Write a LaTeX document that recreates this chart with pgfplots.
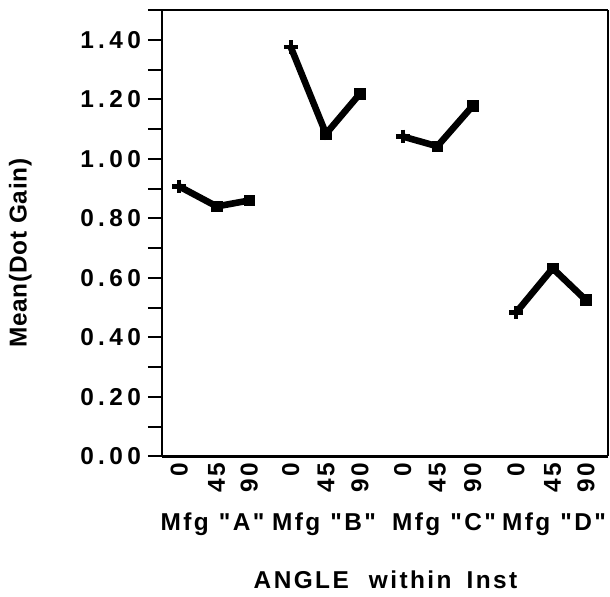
\documentclass[border=0pt]{standalone}
\usepackage{fontspec}
\setmainfont{Liberation Sans}[LetterSpace=10, Ligatures=TeXOff]
\newfontfamily\widefont{Liberation Sans}[LetterSpace=18]
\newfontfamily\tightfont{Liberation Sans}[LetterSpace=3]
\usepackage{pgfplots}
\pgfplotsset{compat=1.18}

% Mean dot gain per screen angle, one short line per manufacturer
\pgfplotstableread{
x      y
1.73   0.907
5.47   0.840
8.73   0.860
}\mfgA
\pgfplotstableread{
x      y
12.87  1.376
16.40  1.084
19.80  1.219
}\mfgB
\pgfplotstableread{
x      y
24.07  1.075
27.53  1.042
31.07  1.178
}\mfgC
\pgfplotstableread{
x      y
35.40  0.483
39.07  0.632
42.40  0.525
}\mfgD

\begin{document}
\begin{tikzpicture}[font=\fontsize{12.2bp}{14bp}\selectfont\bfseries]
\begin{axis}[
  name=ax,
  scale only axis,
  width=223bp, height=223.2bp,
  xmin=0, xmax=44.6,
  ymin=0, ymax=1.5,
  clip=false,
  axis lines*=left,
  axis line style={line width=1.3bp},
  tick align=outside,
  ytick={0,0.1,0.2,0.3,0.4,0.5,0.6,0.7,0.8,0.9,1.0,1.1,1.2,1.3,1.4,1.5},
  yticklabels={0.00,,0.20,,0.40,,0.60,,0.80,,1.00,,1.20,,1.40,},
  major tick length=7bp,
  ytick style={line width=1bp, black},
  yticklabel style={font=\fontsize{12.2bp}{14bp}\selectfont\widefont\bfseries, anchor=east},
  xtick={1.73,5.47,8.73,12.87,16.40,19.80,24.07,27.53,31.07,35.40,39.07,42.40},
  xticklabels={0,45,90,0,45,90,0,45,90,0,45,90},
  xtick style={draw=none},
  xticklabel style={yshift=4bp, rotate=90, anchor=east, inner sep=0pt},
]
\addplot[black, line width=3.3bp] table[x=x, y=y] {\mfgA};
\addplot[black, line width=3.3bp] table[x=x, y=y] {\mfgB};
\addplot[black, line width=3.3bp] table[x=x, y=y] {\mfgC};
\addplot[black, line width=3.3bp] table[x=x, y=y] {\mfgD};
% angle 0 drawn with a cross, angles 45 and 90 with squares
\addplot[only marks, mark=+, mark size=3.4bp, line width=2.2bp, black]
  coordinates {(1.73,0.907) (12.87,1.376) (24.07,1.075) (35.40,0.483)};
\addplot[only marks, mark=square*, mark size=2.7bp, black]
  coordinates {(5.47,0.840) (8.73,0.860) (16.40,1.084) (19.80,1.219)
               (27.53,1.042) (31.07,1.178) (39.07,0.632) (42.40,0.525)};

% frame: heavy top edge, light right edge
\draw[line width=1.3bp] (rel axis cs:0,1) -- (rel axis cs:1,1);
\draw[line width=0.6bp] (rel axis cs:1,0) -- (rel axis cs:1,1);

% manufacturer names under each group of angles
\node[anchor=base] at (axis cs:5.05,0)  [yshift=-37bp] {Mfg\hspace{5bp}"A"};
\node[anchor=base] at (axis cs:16.2,0)  [yshift=-37bp] {Mfg\hspace{5bp}"B"};
\node[anchor=base] at (axis cs:28.2,0)  [yshift=-37bp] {Mfg\hspace{5bp}"C"};
\node[anchor=base] at (axis cs:39.2,0)  [yshift=-37bp] {Mfg\hspace{5bp}"D"};

% axis titles
\node[anchor=base] at (axis cs:22.35,0) [yshift=-65.8bp] {ANGLE\hspace{10bp}within\hspace{7.5bp}Inst};
\node[rotate=90, anchor=base, font=\fontsize{12.2bp}{14bp}\selectfont\tightfont\bfseries]
  at (axis cs:-13.54,0.683) {Mean(Dot Gain)};
\end{axis}
\pgfresetboundingbox
\path ([shift={(-81bp,-70.15bp)}]ax.south west) rectangle ([shift={(1bp,5bp)}]ax.north east);
\end{tikzpicture}
\end{document}
